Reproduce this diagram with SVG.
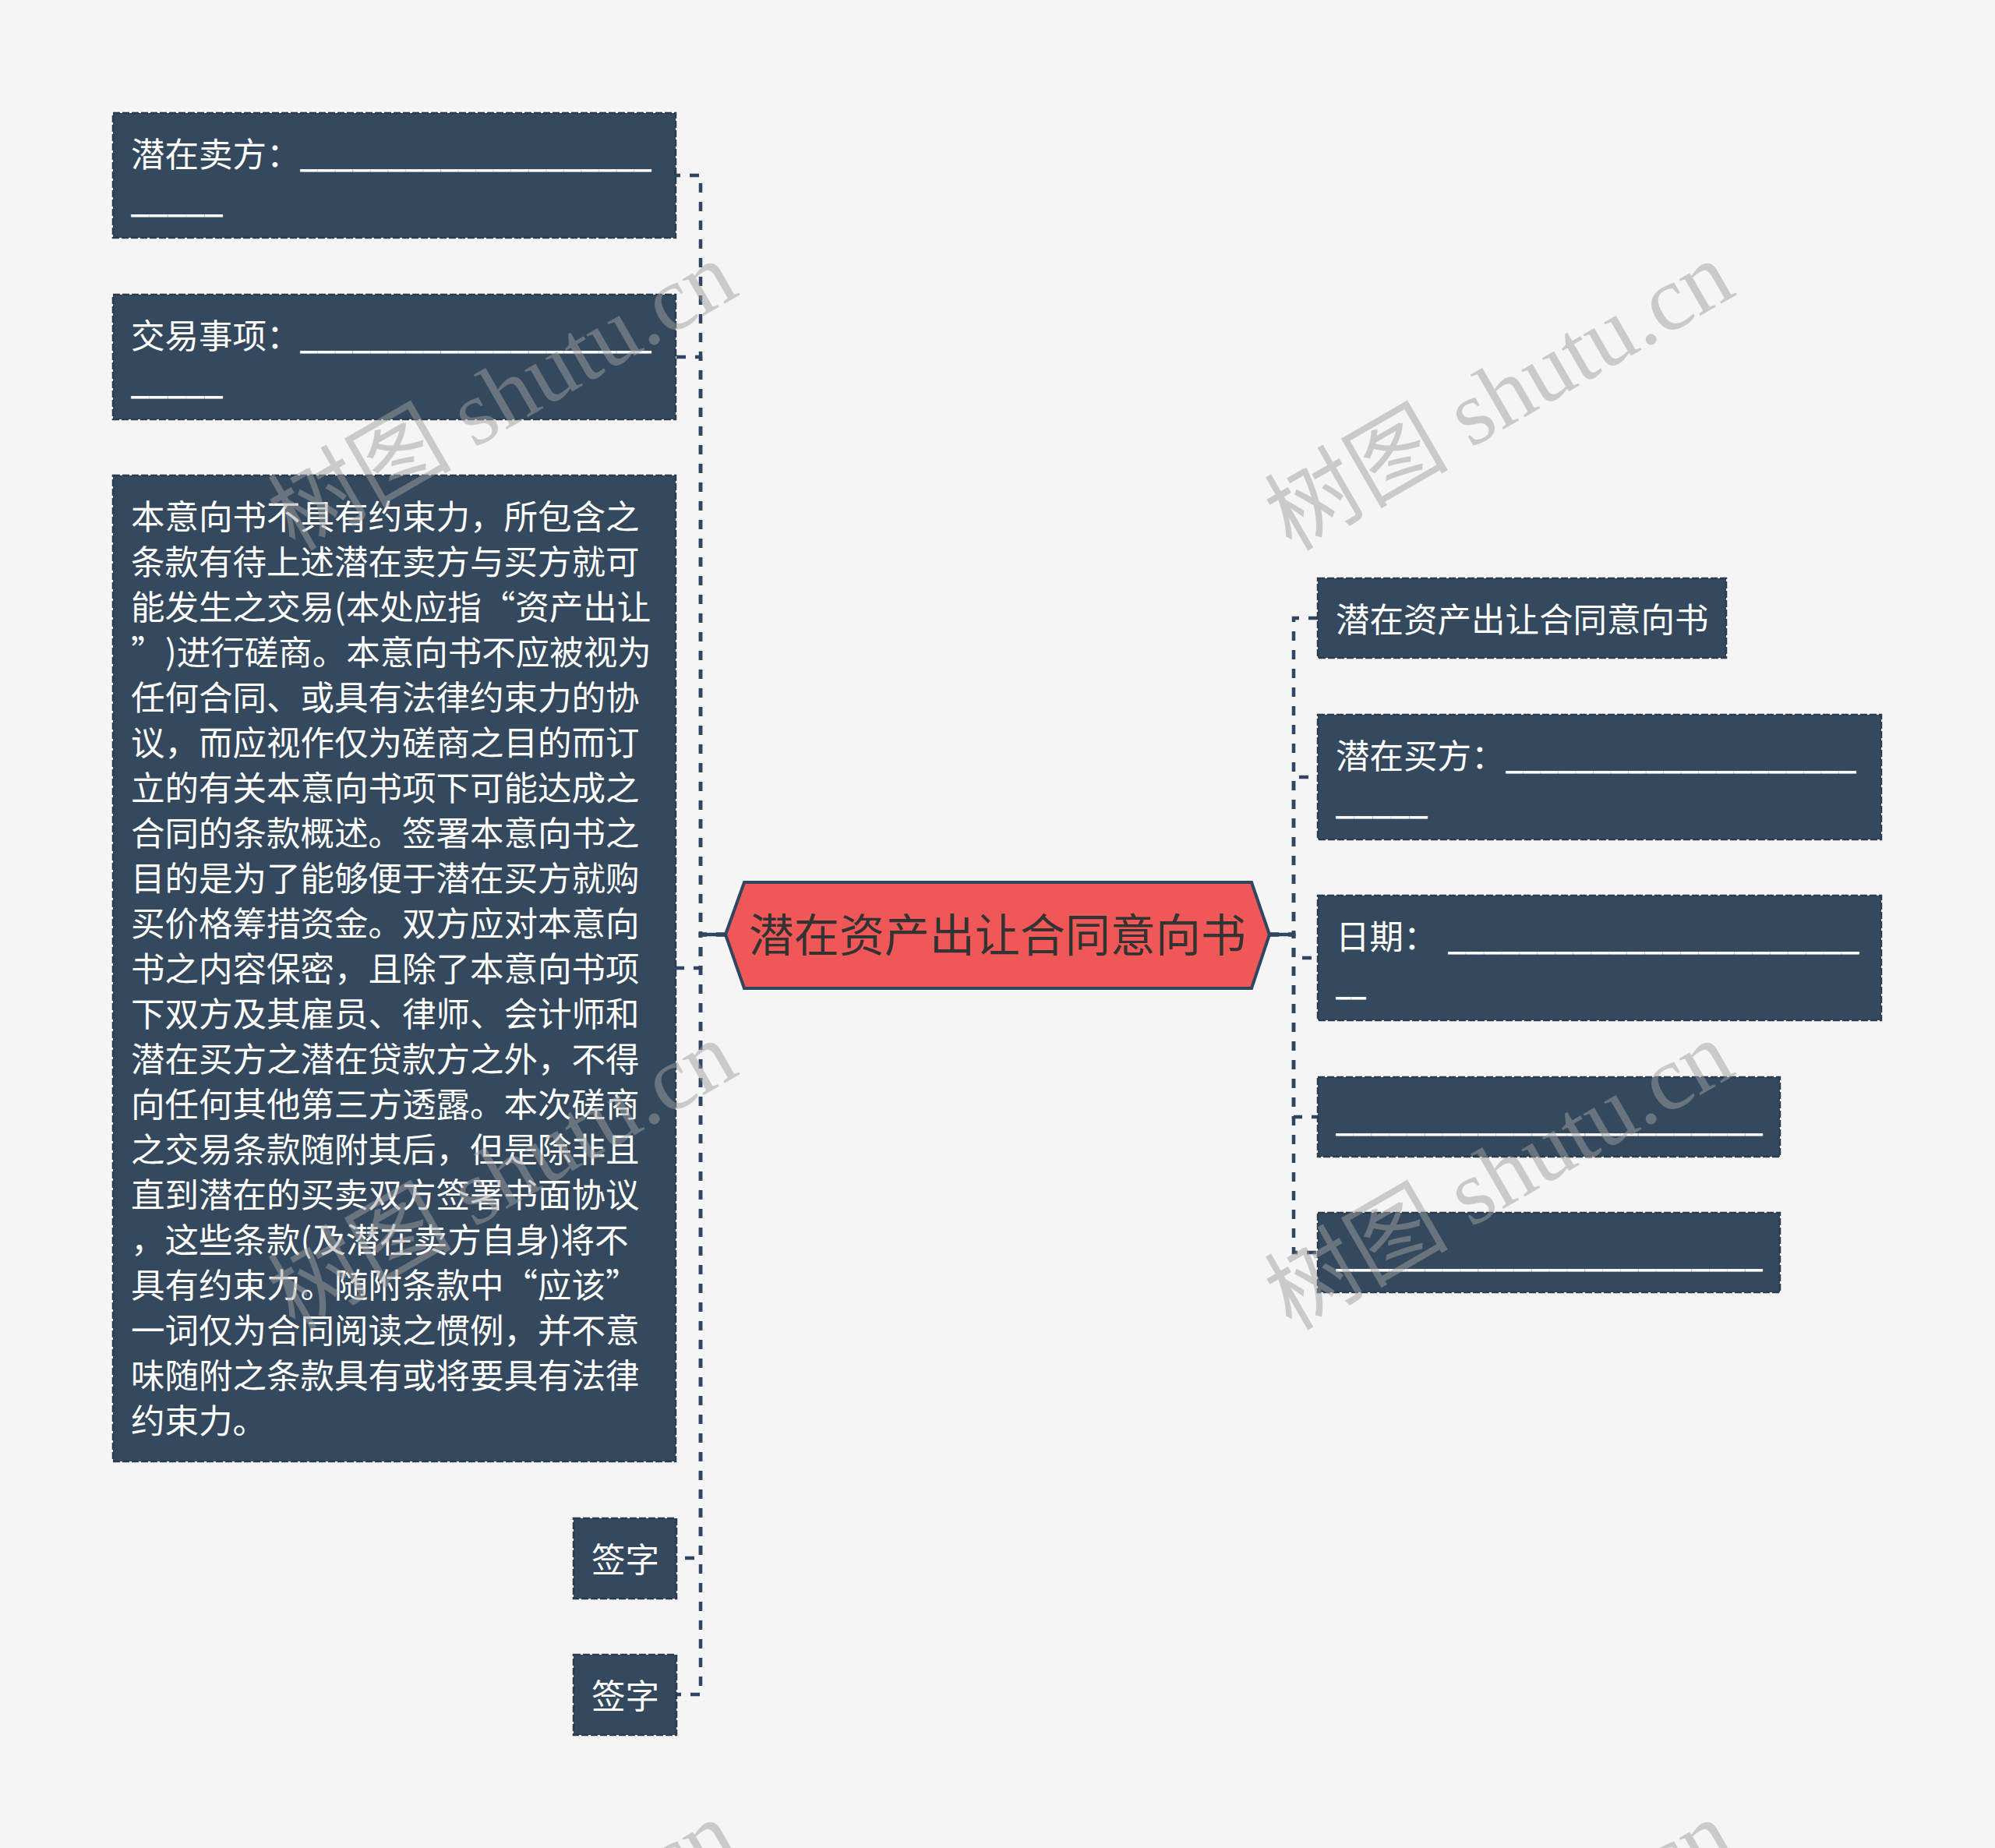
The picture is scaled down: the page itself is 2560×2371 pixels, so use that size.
<svg xmlns="http://www.w3.org/2000/svg" width="2560" height="2371" viewBox="0 0 2560 2371">
<style>
.bg{fill:#f5f5f5}
.box{fill:#34495e;stroke:#2a3b4f;stroke-width:2.5;stroke-dasharray:9 3}
.t{font-family:"Noto Sans CJK SC","Noto Sans",sans-serif;font-size:43.5px;fill:#ffffff}
.u{stroke:#ffffff;stroke-width:0.8}
.edge{fill:none;stroke:#2f4560;stroke-width:4.5;stroke-dasharray:12 12}
.stub{fill:none;stroke:#2f4560;stroke-width:4.5}
.hex{fill:#f05858;stroke:#2f4560;stroke-width:4}
.ht{font-family:"Noto Sans CJK SC","Noto Sans",sans-serif;font-size:58px;fill:#333333}
.wm{font-family:"Liberation Serif","Noto Sans CJK SC",serif;font-size:118px;fill:#a0a0a0;opacity:0.5}
</style>
<rect class="bg" x="0" y="0" width="2560" height="2371"/>

<g id="connectors">
  <path class="edge" d="M931 1199 H899 V225 H867"/>
  <path class="edge" d="M931 1199 H899 V458 H867"/>
  <path class="edge" d="M931 1199 H899 V1242 H867"/>
  <path class="edge" d="M931 1199 H899 V1999 H867"/>
  <path class="edge" d="M931 1199 H899 V2174 H867"/>
  <path class="edge" d="M1629 1199 H1660 V793 H1691"/>
  <path class="edge" d="M1629 1199 H1660 V997 H1691"/>
  <path class="edge" d="M1629 1199 H1660 V1229 H1691"/>
  <path class="edge" d="M1629 1199 H1660 V1433 H1691"/>
  <path class="edge" d="M1629 1199 H1660 V1607 H1691"/>
  <path class="stub" d="M931 1199 H899 M1629 1199 H1660"/>
</g>

<g id="root">
  <polygon class="hex" points="931,1199 955,1132 1606,1132 1629,1199 1606,1268 955,1268"/>
  <text class="ht" x="1280" y="1221" text-anchor="middle">潜在资产出让合同意向书</text>
</g>

<g id="seller">
  <rect class="box" x="145" y="145" width="722" height="160"/>
  <text class="t" x="168" y="214">潜在卖方：</text>
  <text class="t u" x="385" y="214" textLength="451" lengthAdjust="spacingAndGlyphs">____________________</text>
  <text class="t u" x="168" y="272" textLength="118" lengthAdjust="spacingAndGlyphs">_____</text>
</g>

<g id="matter">
  <rect class="box" x="145" y="378" width="722" height="160"/>
  <text class="t" x="168" y="447">交易事项：</text>
  <text class="t u" x="385" y="447" textLength="451" lengthAdjust="spacingAndGlyphs">____________________</text>
  <text class="t u" x="168" y="505" textLength="118" lengthAdjust="spacingAndGlyphs">_____</text>
</g>

<g id="body">
  <rect class="box" x="145" y="610" width="722" height="1265"/>
  <text class="t" x="168" y="679">本意向书不具有约束力，所包含之</text>
  <text class="t" x="168" y="737">条款有待上述潜在卖方与买方就可</text>
  <text class="t" x="168" y="795">能发生之交易(本处应指“资产出让</text>
  <text class="t" x="168" y="853">”<tspan x="212">)进行磋商。本意向书不应被视为</tspan></text>
  <text class="t" x="168" y="911">任何合同、或具有法律约束力的协</text>
  <text class="t" x="168" y="969">议，而应视作仅为磋商之目的而订</text>
  <text class="t" x="168" y="1027">立的有关本意向书项下可能达成之</text>
  <text class="t" x="168" y="1085">合同的条款概述。签署本意向书之</text>
  <text class="t" x="168" y="1143">目的是为了能够便于潜在买方就购</text>
  <text class="t" x="168" y="1201">买价格筹措资金。双方应对本意向</text>
  <text class="t" x="168" y="1259">书之内容保密，且除了本意向书项</text>
  <text class="t" x="168" y="1317">下双方及其雇员、律师、会计师和</text>
  <text class="t" x="168" y="1375">潜在买方之潜在贷款方之外，不得</text>
  <text class="t" x="168" y="1433">向任何其他第三方透露。本次磋商</text>
  <text class="t" x="168" y="1491">之交易条款随附其后，但是除非且</text>
  <text class="t" x="168" y="1549">直到潜在的买卖双方签署书面协议</text>
  <text class="t" x="168" y="1607">，这些条款(及潜在卖方自身)将不</text>
  <text class="t" x="168" y="1665">具有约束力。随附条款中“应该”</text>
  <text class="t" x="168" y="1723">一词仅为合同阅读之惯例，并不意</text>
  <text class="t" x="168" y="1781">味随附之条款具有或将要具有法律</text>
  <text class="t" x="168" y="1839">约束力。</text>
</g>

<g id="sign1">
  <rect class="box" x="736" y="1948" width="132" height="103"/>
  <text class="t" x="759" y="2017">签字</text>
</g>

<g id="sign2">
  <rect class="box" x="736" y="2123" width="132" height="103"/>
  <text class="t" x="759" y="2192">签字</text>
</g>

<g id="title">
  <rect class="box" x="1691" y="742" width="524" height="102"/>
  <text class="t" x="1714" y="811">潜在资产出让合同意向书</text>
</g>

<g id="buyer">
  <rect class="box" x="1691" y="917" width="723" height="160"/>
  <text class="t" x="1714" y="986">潜在买方：</text>
  <text class="t u" x="1932" y="986" textLength="450" lengthAdjust="spacingAndGlyphs">____________________</text>
  <text class="t u" x="1714" y="1044" textLength="118" lengthAdjust="spacingAndGlyphs">_____</text>
</g>

<g id="date">
  <rect class="box" x="1691" y="1149" width="723" height="160"/>
  <text class="t" x="1714" y="1218">日期：</text>
  <text class="t u" x="1858" y="1218" textLength="528" lengthAdjust="spacingAndGlyphs">_______________________</text>
  <text class="t u" x="1714" y="1276" textLength="39" lengthAdjust="spacingAndGlyphs">__</text>
</g>

<g id="blank1">
  <rect class="box" x="1691" y="1382" width="593" height="102"/>
  <text class="t u" x="1714" y="1451" textLength="548" lengthAdjust="spacingAndGlyphs">________________________</text>
</g>

<g id="blank2">
  <rect class="box" x="1691" y="1556" width="593" height="102"/>
  <text class="t u" x="1714" y="1625" textLength="548" lengthAdjust="spacingAndGlyphs">________________________</text>
</g>

<g id="watermarks">
  <text class="wm" transform="translate(378,708) rotate(-30)">树图 shutu.cn</text>
  <text class="wm" transform="translate(1657,708) rotate(-30)">树图 shutu.cn</text>
  <text class="wm" transform="translate(378,1708) rotate(-30)">树图 shutu.cn</text>
  <text class="wm" transform="translate(1657,1708) rotate(-30)">树图 shutu.cn</text>
  <text class="wm" transform="translate(378,2708) rotate(-30)">树图 shutu.cn</text>
  <text class="wm" transform="translate(1657,2708) rotate(-30)">树图 shutu.cn</text>
</g>
</svg>
